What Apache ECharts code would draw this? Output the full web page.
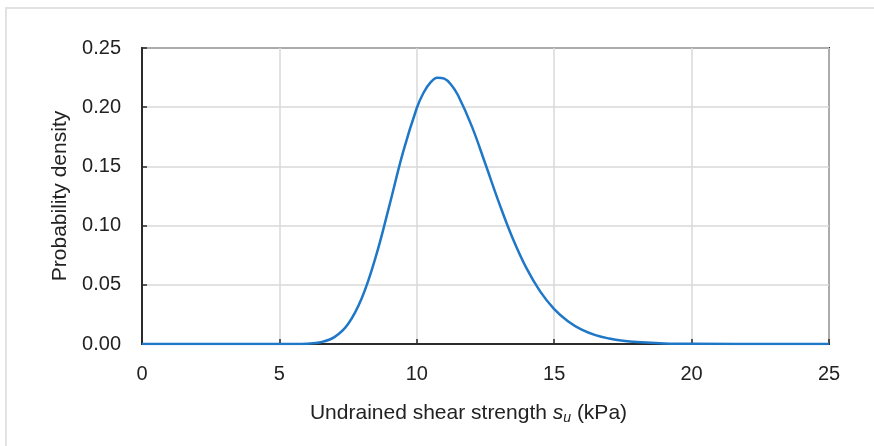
<!DOCTYPE html>
<html>
<head>
<meta charset="utf-8">
<script src="https://cdn.jsdelivr.net/npm/echarts@6/dist/echarts.min.js"></script>
<style>
  html, body { margin: 0; padding: 0; background: #fff; }
  #chart { width: 874px; height: 446px; }
</style>
</head>
<body>
<div id="chart"></div>
<script>
// strength values (kPa) and density
const strength = [0, 5, 5.5, 6, 6.5, 7, 7.5, 8, 8.5, 9, 9.5, 10, 10.25, 10.5, 10.75, 11, 11.25, 11.5, 12, 12.5, 13, 13.5, 14, 14.5, 15, 15.5, 16, 16.5, 17, 17.5, 18, 19, 20, 25];
const density = [0, 0, 0.00003, 0.0003, 0.0015, 0.0058, 0.0169, 0.0388, 0.0731, 0.1167, 0.162, 0.1993, 0.2124, 0.221, 0.2249, 0.2241, 0.219, 0.2101, 0.184, 0.1518, 0.1188, 0.0887, 0.0636, 0.044, 0.0295, 0.0192, 0.0121, 0.0075, 0.0046, 0.0027, 0.0016, 0.0005, 0.0002, 0];
const xTicks = [0, 5, 10, 15, 20, 25];
const yTicks = [0, 0.05, 0.1, 0.15, 0.2, 0.25];

const points = strength.map((x, i) => [x, density[i]]);

const chart = echarts.init(document.getElementById("chart"));

const labelFont = "'Liberation Sans', Arial, sans-serif";

const option = {
  animation: false,
  graphic: [
    {
      type: "rect",
      shape: { x: 6, y: 8, width: 900, height: 480 },
      style: { fill: "none", stroke: "#e2e2e2", lineWidth: 2 },
      silent: true,
    },
  ],
  grid: {
    left: 142,
    right: 45,
    top: 48,
    bottom: 102,
    show: true,
    borderColor: "#2b2b2b",
    borderWidth: 2,
  },
  xAxis: {
    type: "value",
    min: xTicks[0],
    max: xTicks[xTicks.length - 1],
    interval: 5,
    name: "Undrained shear strength {i|s}{sub|u} (kPa)",
    nameLocation: "middle",
    nameGap: 58,
    nameTextStyle: {
      color: "#222",
      fontSize: 21,
      fontFamily: labelFont,
      padding: [0, 34, 0, 0],
      rich: {
        i: { fontStyle: "italic", fontSize: 21, fontFamily: labelFont, color: "#222" },
        sub: { fontStyle: "italic", fontSize: 14, fontFamily: labelFont, color: "#222", padding: [9, 0, 0, 0] },
      },
    },
    axisLine: { show: true, lineStyle: { color: "#2b2b2b", width: 2 } },
    axisTick: { show: true, inside: true, length: 5, lineStyle: { color: "#2b2b2b", width: 1.5 } },
    axisLabel: { color: "#222", fontSize: 20, fontFamily: labelFont, margin: 20 },
    splitLine: { show: true, lineStyle: { color: "#d9d9d9", width: 1.5 } },
  },
  yAxis: {
    type: "value",
    min: yTicks[0],
    max: yTicks[yTicks.length - 1],
    interval: 0.05,
    name: "Probability density",
    nameLocation: "middle",
    nameGap: 66,
    nameTextStyle: { color: "#222", fontSize: 21, fontFamily: labelFont },
    axisLine: { show: true, lineStyle: { color: "#2b2b2b", width: 2 } },
    axisTick: { show: true, inside: true, length: 5, lineStyle: { color: "#2b2b2b", width: 1.5 } },
    axisLabel: {
      color: "#222",
      fontSize: 20,
      fontFamily: labelFont,
      margin: 21,
      formatter: (v) => v.toFixed(2),
    },
    splitLine: { show: true, lineStyle: { color: "#d9d9d9", width: 1.5 } },
  },
  series: [
    {
      type: "line",
      data: points,
      smooth: 0.4,
      showSymbol: false,
      lineStyle: { color: "#1f77c8", width: 2.5 },
    },
  ],
};

chart.setOption(option);
</script>
</body>
</html>
